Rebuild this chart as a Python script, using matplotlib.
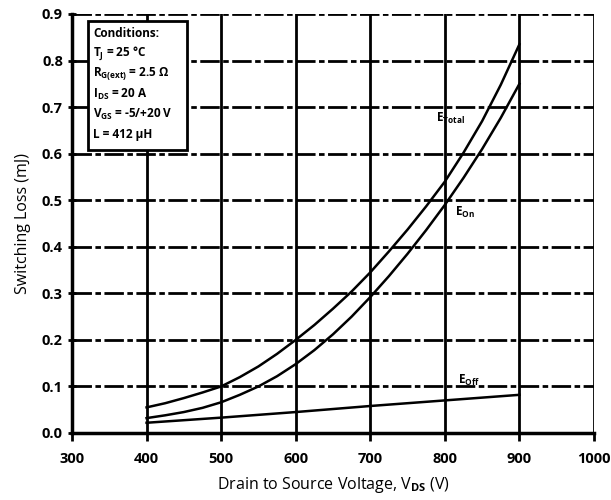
import matplotlib
matplotlib.use('Agg')
import matplotlib.pyplot as plt
from matplotlib.patches import Rectangle

plt.rcParams['font.family'] = ['Open Sans', 'DejaVu Sans']
plt.rcParams['font.weight'] = 'bold'
plt.rcParams['mathtext.fontset'] = 'custom'
plt.rcParams['mathtext.rm'] = 'Open Sans:bold'
plt.rcParams['mathtext.it'] = 'Open Sans:bold'
plt.rcParams['mathtext.bf'] = 'Open Sans:bold'
plt.rcParams['lines.scale_dashes'] = False

# switching energy vs drain-source voltage
v_ds = [400, 425, 450, 475, 500, 525, 550, 575, 600, 625, 650,
        675, 700, 725, 750, 775, 800, 825, 850, 875, 900]
e_total = [0.055, 0.064, 0.075, 0.087, 0.100, 0.120, 0.143, 0.170, 0.200, 0.232, 0.267,
           0.304, 0.345, 0.390, 0.437, 0.487, 0.540, 0.602, 0.670, 0.748, 0.835]
e_on = [0.032, 0.038, 0.045, 0.054, 0.066, 0.082, 0.100, 0.122, 0.148, 0.178, 0.212,
        0.250, 0.292, 0.337, 0.385, 0.436, 0.490, 0.548, 0.610, 0.677, 0.750]
v_off = [400, 500, 600, 700, 800, 900]
e_off = [0.022, 0.033, 0.045, 0.058, 0.070, 0.082]

x_ticks = [300, 400, 500, 600, 700, 800, 900, 1000]
y_ticks = [0.0, 0.1, 0.2, 0.3, 0.4, 0.5, 0.6, 0.7, 0.8, 0.9]

conditions = ['Conditions:',
              r'T$_\mathrm{J}$ = 25 °C',
              r'R$_\mathrm{G(ext)}$ = 2.5 Ω',
              r'I$_\mathrm{DS}$ = 20 A',
              r'V$_\mathrm{GS}$ = -5/+20 V',
              'L = 412 µH']

fig = plt.figure(figsize=(6.11, 5.0), dpi=100)
ax = fig.add_axes([72 / 611, 1 - 433 / 500, (594 - 72) / 611, (433 - 14) / 500])

ax.set_xlim(300, 1000)
ax.set_ylim(0, 0.9)
ax.set_xticks(x_ticks)
ax.set_yticks(y_ticks)
ax.set_yticklabels(['%.1f' % t for t in y_ticks])

# grid: dash-dot horizontals, solid verticals
for y in y_ticks[1:]:
    ax.axhline(y, color='black', lw=2.0, ls=(0, (14, 2.5, 4, 2.5)), zorder=1)
for x in x_ticks[1:]:
    ax.axvline(x, color='black', lw=2.0, zorder=1)

ax.plot(v_ds, e_total, color='black', lw=1.8, zorder=3)
ax.plot(v_ds, e_on, color='black', lw=1.8, zorder=3)
ax.plot(v_off, e_off, color='black', lw=1.8, zorder=3)

ax.text(788, 0.676, r'E$_\mathrm{Total}$', fontsize=8.5, va='center', zorder=4)
ax.text(814, 0.474, r'E$_\mathrm{On}$', fontsize=8.5, va='center', zorder=4)
ax.text(818, 0.112, r'E$_\mathrm{Off}$', fontsize=8.5, va='center', zorder=4)

for s in ['left', 'bottom']:
    ax.spines[s].set_linewidth(2.5)
for s in ['top', 'right']:
    ax.spines[s].set_visible(False)
ax.tick_params(axis='both', direction='inout', length=6, width=2.0, labelsize=10.5)
ax.tick_params(axis='x', direction='out', pad=8)

ax.set_xlabel(r'Drain to Source Voltage, V$_\mathrm{DS}$ (V)', fontsize=11.5, labelpad=6)
ax.set_ylabel('Switching Loss (mJ)', fontsize=11.5, labelpad=8)

# test conditions box
box = Rectangle((321, 0.608), 133, 0.278, facecolor='white', edgecolor='black',
                lw=2.0, zorder=5)
ax.add_patch(box)
for i, line in enumerate(conditions):
    ax.text(328, 0.858 - i * 0.0435, line, fontsize=8.5, va='center', zorder=6)

fig.savefig('out.png', dpi=100)
